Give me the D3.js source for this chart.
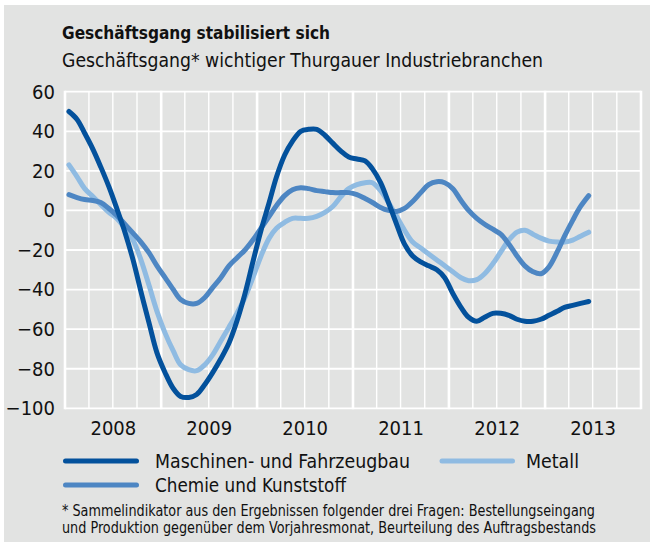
<!DOCTYPE html>
<html>
<head>
<meta charset="utf-8">
<script src="https://cdn.jsdelivr.net/npm/d3@7"></script>
<style>
  html, body { margin: 0; padding: 0; background: #ffffff; }
  svg { display: block; }
  text { font-family: 'Liberation Sans Narrow', 'DejaVu Sans Condensed', 'Arial Narrow', sans-serif; fill: #111; }
</style>
</head>
<body>
<svg id="chart" width="650" height="542"></svg>
<script>
// ---- data (monthly, Jan 2008 – Jun 2013) ----
const startMonth = [2008, 0];
const maschinen = [50, 46, 39, 31, 22, 12, 1, -11, -25, -41, -57, -72,
  -82, -90, -94, -94.5, -93, -88, -82, -75, -67, -56, -42, -26,
  -10, 4, 17, 28, 35, 40, 41, 41, 38, 34, 30, 27,
  26, 25, 21, 14, 4, -7, -17, -23, -26, -28, -30, -34,
  -42, -49, -54, -56, -54, -52, -52, -53, -55, -56, -56, -55,
  -53, -51, -49, -48, -47, -46];
const metall = [23, 17, 11, 7, 3, -1, -4, -9, -15, -25, -38, -51,
  -62, -71, -78, -80.5, -81, -78, -73, -66, -59, -52, -44, -34,
  -23, -14, -9, -6, -4, -4, -4, -3, -1, 2, 7, 11,
  13, 14, 14, 10, 4, -3, -10, -16, -19, -22, -25, -28,
  -31, -34, -35.5, -35, -32, -27, -21, -15, -11, -10, -12, -14,
  -15.5, -16, -16, -15, -13, -11];
const chemie = [8, 6.5, 5.5, 5, 4, 1, -2.5, -7, -11.5, -16, -21.5, -28,
  -34, -40, -45, -47, -47, -44, -39, -34, -28, -24, -20, -15,
  -9, -3, 2.5, 7.5, 10.5, 11.5, 11, 10, 9.5, 9, 9, 9,
  8, 6, 4, 1.5, 0, -0.5, 1, 4.5, 9, 13, 14.5, 14,
  11, 5, 0, -4, -7, -9.5, -12, -17, -23, -28, -31, -32,
  -28.5, -21, -13, -5, 2, 7.5];
const seriesNames = ["Maschinen- und Fahrzeugbau", "Metall", "Chemie und Kunststoff"];
const seriesColors = ["#03519c", "#8fbbe2", "#4d86c3"];
const yTicks = [-100, -80, -60, -40, -20, 0, 20, 40, 60];
const yearLabels = [2008, 2009, 2010, 2011, 2012, 2013];
const title = "Geschäftsgang stabilisiert sich";
const subtitle = "Geschäftsgang* wichtiger Thurgauer Industriebranchen";
const footnote = [
  "* Sammelindikator aus den Ergebnissen folgender drei Fragen: Bestellungseingang",
  "und Produktion gegenüber dem Vorjahresmonat, Beurteilung des Auftragsbestands"
];

// ---- layout ----
const svg = d3.select("#chart");
const plot = { left: 65, right: 641, top: 91.7, bottom: 408.3 };

svg.append("rect").attr("x", 4).attr("y", 5).attr("width", 646).attr("height", 537).attr("fill", "#e2e3e2");

const x = d3.scaleTime()
  .domain([new Date(2008, 0, 1), new Date(2014, 0, 1)])
  .range([plot.left, plot.right]);
const y = d3.scaleLinear().domain([-100, 60]).range([plot.bottom, plot.top]);

const dateOf = i => new Date(startMonth[0], startMonth[1] + i, 16);

// grid
const g = svg.append("g");
const quarters = d3.timeMonth.every(3).range(new Date(2008, 0, 1), new Date(2014, 0, 2));
g.selectAll("line.q").data(quarters.filter(d => d.getMonth() !== 0)).join("line")
  .attr("x1", d => x(d)).attr("x2", d => x(d))
  .attr("y1", plot.top).attr("y2", plot.bottom)
  .attr("stroke", "#fff").attr("stroke-width", 1.4);
g.selectAll("line.h").data(yTicks).join("line")
  .attr("x1", plot.left).attr("x2", plot.right)
  .attr("y1", d => y(d)).attr("y2", d => y(d))
  .attr("stroke", "#fff").attr("stroke-width", 1.8);
const years = d3.timeYear.range(new Date(2008, 0, 1), new Date(2014, 0, 2));
g.selectAll("line.y").data(years).join("line")
  .attr("x1", d => x(d)).attr("x2", d => x(d))
  .attr("y1", plot.top - 0.9).attr("y2", plot.bottom + 0.9)
  .attr("stroke", "#fff").attr("stroke-width", 2.6);

// axes
const yAxis = svg.append("g").attr("transform", `translate(${plot.left},0)`)
  .call(d3.axisLeft(y).tickValues(yTicks).tickSize(0).tickPadding(10));
yAxis.select(".domain").remove();
yAxis.selectAll("text").attr("font-size", 20).attr("fill", "#111")
  .style("font-family", "'Liberation Sans Narrow', 'DejaVu Sans Condensed', sans-serif");

const xAxis = svg.append("g").attr("transform", `translate(0,${plot.bottom})`)
  .call(d3.axisBottom(x).tickValues(yearLabels.map(yr => new Date(yr, 6, 1)))
    .tickFormat(d3.timeFormat("%Y")).tickSize(0).tickPadding(12.5));
xAxis.select(".domain").remove();
xAxis.selectAll("text").attr("font-size", 20).attr("fill", "#111")
  .style("font-family", "'Liberation Sans Narrow', 'DejaVu Sans Condensed', sans-serif");

// lines
const line = d3.line()
  .x((d, i) => x(dateOf(i)))
  .y(d => y(d))
  .curve(d3.curveCatmullRom.alpha(0.5));
const allSeries = [metall, chemie, maschinen];
const colorFor = [seriesColors[1], seriesColors[2], seriesColors[0]];
svg.append("g").selectAll("path").data(allSeries).join("path")
  .attr("d", d => line(d))
  .attr("fill", "none")
  .attr("stroke", (d, i) => colorFor[i])
  .attr("stroke-width", 5)
  .attr("stroke-linecap", "round")
  .attr("stroke-linejoin", "round");

// titles
svg.append("text").attr("x", 62).attr("y", 38.5).attr("font-size", 18).attr("font-weight", "bold")
  .attr("textLength", 268).attr("lengthAdjust", "spacingAndGlyphs").text(title);
svg.append("text").attr("x", 62).attr("y", 66.5).attr("font-size", 19.5)
  .attr("textLength", 481).attr("lengthAdjust", "spacingAndGlyphs").text(subtitle);

// legend
const legendItems = [
  { name: seriesNames[0], color: seriesColors[0], x1: 65.5, x2: 136.5, tx: 155, y: 461, w: 255 },
  { name: seriesNames[1], color: seriesColors[1], x1: 442, x2: 512.5, tx: 526, y: 461, w: 53 },
  { name: seriesNames[2], color: seriesColors[2], x1: 65.5, x2: 136.5, tx: 155, y: 485, w: 191 }
];
const lg = svg.append("g");
legendItems.forEach(it => {
  lg.append("line").attr("x1", it.x1).attr("x2", it.x2).attr("y1", it.y).attr("y2", it.y)
    .attr("stroke", it.color).attr("stroke-width", 5).attr("stroke-linecap", "round");
  lg.append("text").attr("x", it.tx).attr("y", it.y + 6.5).attr("font-size", 19.5)
    .attr("textLength", it.w).attr("lengthAdjust", "spacingAndGlyphs").text(it.name);
});

// footnote
svg.append("text").attr("x", 62).attr("y", 516).attr("font-size", 15)
  .attr("textLength", 533).attr("lengthAdjust", "spacingAndGlyphs").text(footnote[0]);
svg.append("text").attr("x", 62).attr("y", 533).attr("font-size", 15)
  .attr("textLength", 534).attr("lengthAdjust", "spacingAndGlyphs").text(footnote[1]);
</script>
</body>
</html>
